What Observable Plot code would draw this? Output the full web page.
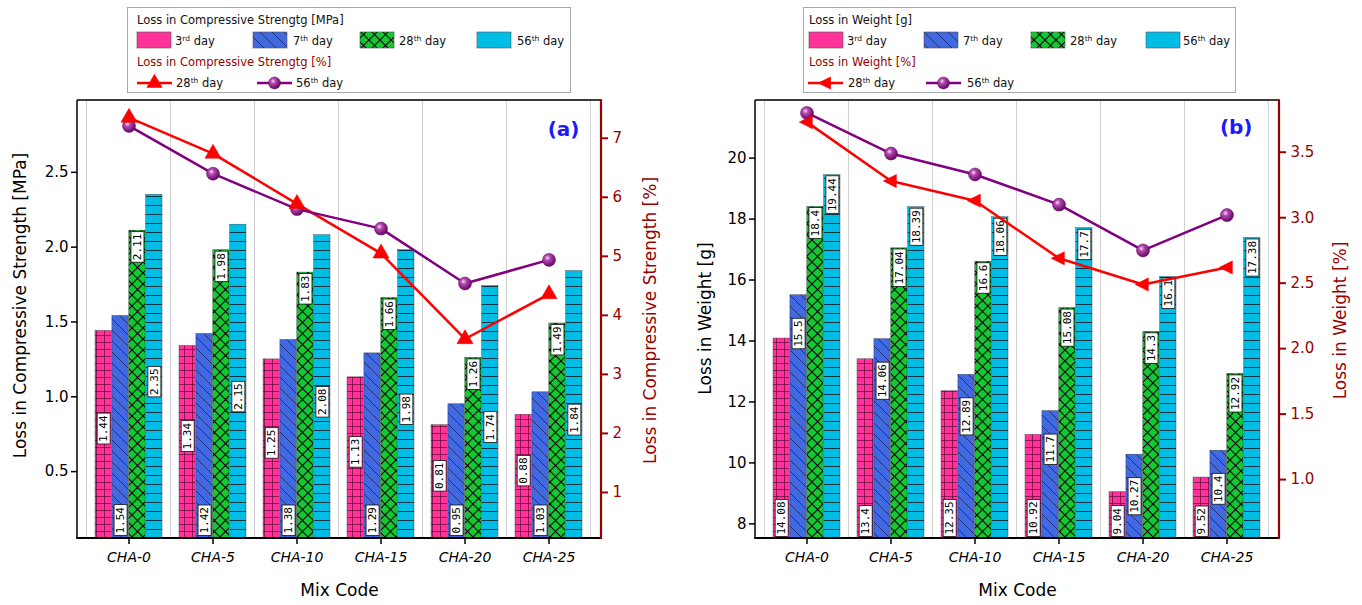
<!DOCTYPE html>
<html>
<head>
<meta charset="utf-8">
<script src="https://cdn.jsdelivr.net/npm/d3@7"></script>
<script src="https://cdn.jsdelivr.net/npm/@observablehq/plot@0.6"></script>
<style>
  body { margin: 0; background: #fff; width: 1362px; height: 605px; overflow: hidden; font-family: "DejaVu Sans", sans-serif; }
  .panel { position: absolute; top: 0; height: 605px; }
  .legend { position: absolute; top: 7px; }
  .plot { position: absolute; top: 97px; left: 0; }
</style>
</head>
<body>
<svg width="0" height="0" style="position:absolute">
  <defs>
    <pattern id="pat0" width="8" height="7" patternUnits="userSpaceOnUse">
      <rect width="8" height="7" fill="#ff3399"/>
      <path d="M0 0.5H8M0.5 0V7" stroke="#4a0024" stroke-width="0.8" stroke-opacity="0.75"/>
    </pattern>
    <pattern id="pat1" width="11" height="11" patternUnits="userSpaceOnUse">
      <rect width="11" height="11" fill="#4169e1"/>
      <path d="M0 0L11 11M-5.5 5.5L5.5 16.5M5.5 -5.5L16.5 5.5" stroke="#1a2560" stroke-width="0.8"/>
    </pattern>
    <pattern id="pat2" width="11" height="11" patternUnits="userSpaceOnUse">
      <rect width="11" height="11" fill="#14c832"/>
      <path d="M0 0L11 11M11 0L0 11" stroke="#000" stroke-width="1.1"/>
    </pattern>
    <pattern id="pat3" width="10" height="9" patternUnits="userSpaceOnUse">
      <rect width="10" height="9" fill="#00bde6"/>
      <path d="M0 0.5H10" stroke="#0a3343" stroke-width="1"/>
    </pattern>
    <pattern id="legBlue" width="12" height="12" patternUnits="userSpaceOnUse">
      <rect width="12" height="12" fill="#4169e1"/>
      <path d="M0 0L12 12M-6 6L6 18M6 -6L18 6" stroke="#1a2560" stroke-width="0.8"/>
    </pattern>
    <radialGradient id="sphere" cx="0.38" cy="0.35" r="0.7">
      <stop offset="0" stop-color="#f6dcf3"/>
      <stop offset="0.3" stop-color="#b448b0"/>
      <stop offset="1" stop-color="#5c005c"/>
    </radialGradient>
  </defs>
</svg>
<div id="panelA" class="panel" style="left:0;width:680px"></div>
<div id="panelB" class="panel" style="left:680px;width:682px"></div>
<script>
// ---------- data ----------
const mixCodes = ["CHA-0", "CHA-5", "CHA-10", "CHA-15", "CHA-20", "CHA-25"];
const dayNumbers = ["3", "7", "28", "56"];
const daySuffixes = ["rd", "th", "th", "th"];

const strength3rd  = [1.44, 1.34, 1.25, 1.13, 0.81, 0.88];
const strength7th  = [1.54, 1.42, 1.38, 1.29, 0.95, 1.03];
const strength28th = [2.11, 1.98, 1.83, 1.66, 1.26, 1.49];
const strength56th = [2.35, 2.15, 2.08, 1.98, 1.74, 1.84];
const strengthPct28th = [7.35, 6.74, 5.89, 5.05, 3.60, 4.36];
const strengthPct56th = [7.21, 6.40, 5.80, 5.47, 4.54, 4.94];

const weight3rd  = [14.08, 13.4, 12.35, 10.92, 9.04, 9.52];
const weight7th  = [15.5, 14.06, 12.89, 11.7, 10.27, 10.4];
const weight28th = [18.4, 17.04, 16.6, 15.08, 14.3, 12.92];
const weight56th = [19.44, 18.39, 18.06, 17.7, 16.1, 17.38];
const weightPct28th = [3.73, 3.28, 3.13, 2.69, 2.49, 2.62];
const weightPct56th = [3.80, 3.49, 3.33, 3.10, 2.75, 3.02];

const strengthTicks = [0.5, 1.0, 1.5, 2.0, 2.5];
const strengthPctTicks = [1, 2, 3, 4, 5, 6, 7];
const weightTicks = [8, 10, 12, 14, 16, 18, 20];
const weightPctTicks = [1.0, 1.5, 2.0, 2.5, 3.0, 3.5];

// ---------- helpers ----------
const DARKRED = "#990000";
const leftTriangle = {
  draw(ctx, size) {
    const r = Math.sqrt(size / Math.PI);
    ctx.moveTo(-r * 1.3, 0);
    ctx.lineTo(r * 0.9, -r * 1.1);
    ctx.lineTo(r * 0.9, r * 1.1);
    ctx.closePath();
  }
};

function edges(rightColor) {
  return (index, scales, values, dims) => {
    const l = dims.marginLeft, r = dims.width - dims.marginRight;
    const t = dims.marginTop, b = dims.height - dims.marginBottom;
    const g = d3.create("svg:g");
    g.append("line").attr("x1", l).attr("x2", l).attr("y1", t).attr("y2", b).attr("stroke", "#000").attr("stroke-width", 1.5);
    g.append("line").attr("x1", l).attr("x2", r).attr("y1", t).attr("y2", t).attr("stroke", "#000").attr("stroke-width", 1.5);
    g.append("line").attr("x1", l - 0.75).attr("x2", r).attr("y1", b).attr("y2", b).attr("stroke", "#000").attr("stroke-width", 2.2);
    g.append("line").attr("x1", r).attr("x2", r).attr("y1", t - 0.75).attr("y2", b + 1).attr("stroke", rightColor).attr("stroke-width", 2.2);
    return g.node();
  };
}

function boxLabels(svg) {
  svg.querySelectorAll('g[aria-description="value-label"] text').forEach((t) => {
    const b = t.getBBox();
    const rect = document.createElementNS("http://www.w3.org/2000/svg", "rect");
    rect.setAttribute("x", b.x - 2);
    rect.setAttribute("y", b.y);
    rect.setAttribute("width", b.width + 4);
    rect.setAttribute("height", b.height);
    rect.setAttribute("fill", "white");
    rect.setAttribute("stroke", "#111");
    rect.setAttribute("stroke-width", 0.8);
    rect.setAttribute("transform", t.getAttribute("transform"));
    t.parentNode.insertBefore(rect, t);
  });
}

function makeLegend(cfg) {
  const svg = d3.create("svg").attr("width", cfg.w).attr("height", 86)
    .style("font-family", "DejaVu Sans, sans-serif").style("font-size", "11.5px");
  svg.append("rect").attr("x", 0.5).attr("y", 0.5).attr("width", cfg.w - 1).attr("height", 85)
    .attr("fill", "white").attr("stroke", "#a8a8a8");
  svg.append("text").attr("x", cfg.swX[0]).attr("y", 17).attr("fill", "#111").text(cfg.title1);
  const fills = ["#ff3399", "url(#legBlue)", "url(#pat2)", "#00bde6"];
  dayNumbers.forEach((n, k) => {
    svg.append("rect").attr("x", cfg.swX[k]).attr("y", 25).attr("width", 34).attr("height", 16)
      .attr("fill", fills[k]).attr("stroke", "#555").attr("stroke-width", 0.6);
    const t = svg.append("text").attr("x", cfg.txtX[k]).attr("y", 38).attr("fill", "#111");
    t.append("tspan").text(n);
    t.append("tspan").attr("dy", -4).attr("font-size", 7.5).text(daySuffixes[k]);
    t.append("tspan").attr("dy", 4).text(" day");
  });
  svg.append("text").attr("x", cfg.swX[0]).attr("y", 59).attr("fill", DARKRED).text(cfg.title2);
  const lines = [
    {x: cfg.lineX[0], tx: cfg.lineTxtX[0], color: "#ff0000", label: "28"},
    {x: cfg.lineX[1], tx: cfg.lineTxtX[1], color: "#800080", label: "56"}
  ];
  lines.forEach((L, i) => {
    svg.append("line").attr("x1", L.x).attr("x2", L.x + 35).attr("y1", 76).attr("y2", 76)
      .attr("stroke", L.color).attr("stroke-width", 2.5);
    const cx = L.x + 17.5;
    if (i === 0) {
      const sym = cfg.leftTri ? leftTriangle : d3.symbolTriangle;
      svg.append("path").attr("d", d3.symbol(sym, 36 * Math.PI)()).attr("transform", `translate(${cx},76)`).attr("fill", "#ff0000");
    } else {
      svg.append("circle").attr("cx", cx).attr("cy", 76).attr("r", 6).attr("fill", "url(#sphere)").attr("stroke", "#5c005c").attr("stroke-width", 0.5);
    }
    const t = svg.append("text").attr("x", L.tx).attr("y", 80).attr("fill", "#111");
    t.append("tspan").text(L.label);
    t.append("tspan").attr("dy", -4).attr("font-size", 7.5).text("th");
    t.append("tspan").attr("dy", 4).text(" day");
  });
  return svg.node();
}

function makePanel(cfg) {
  const height = 508, marginTop = 3, marginBottom = 67;
  const plotW = cfg.width - cfg.marginLeft - cfg.marginRight;
  const step = plotW / 6.2, bw = step * 0.8, q = bw / 4;
  const [y0, y1] = cfg.yDomain, [p0, p1] = cfg.pDomain;
  const toY = (p) => y0 + (p - p0) * (y1 - y0) / (p1 - p0);
  const toP = (y) => p0 + (y - y0) * (p1 - p0) / (y1 - y0);

  const barMarks = [], labelMarks = [];
  cfg.bars.forEach((vals, k) => {
    const rows = vals.map((v, i) => ({mix: mixCodes[i], v}));
    barMarks.push(Plot.barY(rows, {
      x: "mix", y: "v", fill: `url(#pat${k})`, stroke: "#333", strokeWidth: 0.5, strokeOpacity: 0.8,
      insetLeft: k * q, insetRight: (3 - k) * q, clip: true
    }));
    const rule = cfg.labelRules[k];
    let yAcc, anchor, dy;
    if (rule.at === "bottom") { yAcc = () => y0; anchor = "start"; dy = -rule.off; }
    else if (rule.at === "top") { yAcc = (d) => d.v; anchor = "end"; dy = rule.off; }
    else { yAcc = (d) => (y0 + d.v) / 2; anchor = "middle"; dy = rule.off; }
    labelMarks.push(Plot.text(rows, {
      x: "mix", y: yAcc, text: (d) => String(d.v), rotate: -90, textAnchor: anchor,
      dx: (k - 1.5) * q, dy, fontFamily: "DejaVu Sans Mono, monospace", fontSize: 11, fill: "#000",
      ariaDescription: "value-label"
    }));
  });

  const pct28 = cfg.pct28.map((p, i) => ({mix: mixCodes[i], p}));
  const pct56 = cfg.pct56.map((p, i) => ({mix: mixCodes[i], p}));

  return Plot.plot({
    width: cfg.width, height, marginLeft: cfg.marginLeft, marginRight: cfg.marginRight,
    marginTop, marginBottom,
    style: {fontFamily: "DejaVu Sans, sans-serif", fontSize: "15px", background: "transparent", overflow: "visible", color: "#000"},
    x: {type: "band", domain: mixCodes, padding: 0.2, label: null},
    y: {domain: cfg.yDomain, label: null},
    marks: [
      Plot.barY(mixCodes, {x: (d) => d, y1: () => y0, y2: () => y1, fill: "none", stroke: "#d2d2d2", strokeWidth: 1,
        insetLeft: -(step - bw) / 2, insetRight: -(step - bw) / 2}),
      ...barMarks,
      ...labelMarks,
      Plot.line(pct28, {x: "mix", y: (d) => toY(d.p), stroke: "#ff0000", strokeWidth: 2.5}),
      Plot.line(pct56, {x: "mix", y: (d) => toY(d.p), stroke: "#800080", strokeWidth: 2.5}),
      Plot.dot(pct56, {x: "mix", y: (d) => toY(d.p), r: 6.5, fill: "url(#sphere)", stroke: "#5c005c", strokeWidth: 0.5}),
      Plot.dot(pct28, {x: "mix", y: (d) => toY(d.p), r: 6, symbol: cfg.leftTri ? leftTriangle : "triangle", fill: "#ff0000", stroke: "#ee0000", strokeWidth: 0.5}),
      Plot.axisX({tickSize: 6, tickPadding: 8, fontSize: 14, fontStyle: "italic", strokeWidth: 1.5, label: null}),
      Plot.axisY(cfg.yTicks, {anchor: "left", tickSize: 6, tickPadding: 3, strokeWidth: 1.5, tickFormat: cfg.yFmt, label: null}),
      Plot.axisY(cfg.pTicks.map(toY), {anchor: "right", tickSize: 6, tickPadding: 5, stroke: DARKRED, fill: DARKRED, strokeWidth: 2,
        tickFormat: (d) => cfg.pFmt(toP(d)), label: null}),
      edges(DARKRED),
      Plot.text([cfg.yTitle], {frameAnchor: "left", rotate: -90, textAnchor: "middle", dx: cfg.yTitleDx, dy: cfg.yTitleDy, fontSize: 17, fill: "#000"}),
      Plot.text([cfg.pTitle], {frameAnchor: "right", rotate: -90, textAnchor: "middle", dx: cfg.pTitleDx, dy: 1, fontSize: 17, fill: DARKRED}),
      Plot.text(["Mix Code"], {frameAnchor: "bottom", lineAnchor: "middle", dy: 52, fontSize: 17, fill: "#000"}),
      Plot.text([cfg.tag], {frameAnchor: "top-right", lineAnchor: "middle", textAnchor: "end", dx: cfg.tagDx, dy: cfg.tagDy,
        fontSize: 20, fontWeight: "bold", fill: "#1a1aff"})
    ]
  });
}

// ---------- panel (a) ----------
const panelA = document.getElementById("panelA");
const legA = makeLegend({
  w: 444, title1: "Loss in Compressive Strengtg [MPa]", title2: "Loss in Compressive Strengtg [%]",
  swX: [10, 126, 233, 350], txtX: [48, 166, 272, 390], lineX: [10, 130], lineTxtX: [49, 169], leftTri: false
});
legA.setAttribute("class", "legend"); legA.style.left = "127px";
panelA.appendChild(legA);
const plotA = makePanel({
  width: 680, marginLeft: 77, marginRight: 79,
  yDomain: [0.053, 2.98], pDomain: [0.22, 7.64],
  bars: [strength3rd, strength7th, strength28th, strength56th],
  pct28: strengthPct28th, pct56: strengthPct56th,
  yTicks: strengthTicks, pTicks: strengthPctTicks,
  yFmt: d3.format(".1f"), pFmt: d3.format(".0f"),
  yTitle: "Loss in Compressive Strength [MPa]", pTitle: "Loss in Compressive Strength [%]",
  yTitleDx: -57, yTitleDy: -14, pTitleDx: 49,
  tag: "(a)", tagDx: -22, tagDy: 29, leftTri: false,
  labelRules: [{at: "mid", off: -6}, {at: "bottom", off: 5}, {at: "top", off: 3}, {at: "mid", off: 15}]
});
plotA.setAttribute("class", "plot");
panelA.appendChild(plotA);
boxLabels(plotA);

// ---------- panel (b) ----------
const panelB = document.getElementById("panelB");
const legB = makeLegend({
  w: 433, title1: "Loss in Weight [g]", title2: "Loss in Weight [%]",
  swX: [6, 121, 228, 343], txtX: [44, 160, 267, 380], lineX: [5, 123], lineTxtX: [45, 164], leftTri: true
});
legB.setAttribute("class", "legend"); legB.style.left = "123px";
panelB.appendChild(legB);
const plotB = makePanel({
  width: 682, marginLeft: 75, marginRight: 83,
  yDomain: [7.52, 21.89], pDomain: [0.55, 3.895],
  bars: [weight3rd, weight7th, weight28th, weight56th],
  pct28: weightPct28th, pct56: weightPct56th,
  yTicks: weightTicks, pTicks: weightPctTicks,
  yFmt: d3.format("d"), pFmt: d3.format(".1f"),
  yTitle: "Loss in Weight [g]", pTitle: "Loss in Weight [%]",
  yTitleDx: -50, yTitleDy: -1, pTitleDx: 61,
  tag: "(b)", tagDx: -27, tagDy: 27, leftTri: true,
  labelRules: [{at: "bottom", off: 4}, {at: "top", off: 25}, {at: "top", off: 3}, {at: "top", off: 3}]
});
plotB.setAttribute("class", "plot");
panelB.appendChild(plotB);
boxLabels(plotB);
</script>
</body>
</html>
